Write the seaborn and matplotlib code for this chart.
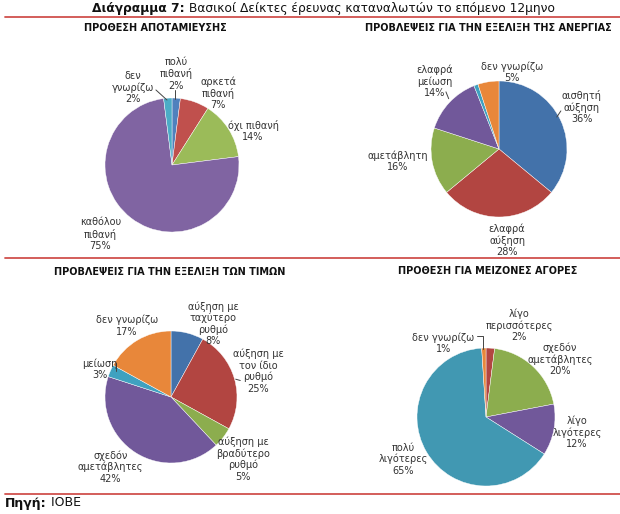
import seaborn as sns
import matplotlib.pyplot as plt
import numpy as np

# data
savings_labels = ['πολύ\nπιθανή', 'αρκετά\nπιθανή', 'όχι πιθανή', 'καθόλου\nπιθανή', 'δεν\nγνωρίζω']
savings_values = [2, 7, 14, 75, 2]

unemp_labels = ['αισθητή\nαύξηση', 'ελαφρά\nαύξηση', 'αμετάβλητη', 'ελαφρά\nμείωση', '', 'δεν γνωρίζω']
unemp_values = [36, 28, 16, 14, 1, 5]

prices_labels = ['αύξηση με\nταχύτερο\nρυθμό', 'αύξηση με\nτον ίδιο\nρυθμό', 'αύξηση με\nβραδύτερο\nρυθμό',
                 'σχεδόν\nαμετάβλητες', 'μείωση', 'δεν γνωρίζω']
prices_values = [8, 25, 5, 42, 3, 17]

purchase_labels = ['λίγο\nπερισσότερες', 'σχεδόν\nαμετάβλητες', 'λίγο\nλιγότερες', 'πολύ\nλιγότερες', 'δεν γνωρίζω']
purchase_values = [2, 20, 12, 65, 1]

titles = ['ΠΡΟΘΕΣΗ ΑΠΟΤΑΜΙΕΥΣΗΣ', 'ΠΡΟΒΛΕΨΕΙΣ ΓΙΑ ΤΗΝ ΕΞΕΛΙΞΗ ΤΗΣ ΑΝΕΡΓΙΑΣ',
          'ΠΡΟΒΛΕΨΕΙΣ ΓΙΑ ΤΗΝ ΕΞΕΛΙΞΗ ΤΩΝ ΤΙΜΩΝ', 'ΠΡΟΘΕΣΗ ΓΙΑ ΜΕΙΖΟΝΕΣ ΑΓΟΡΕΣ']

# styles
colors = [
    ['#4F81BD', '#C0504D', '#9BBB59', '#8064A2', '#4BACC6'],
    ['#4372AA', '#B24541', '#8CAD4E', '#71589A', '#3FA1C0', '#E8873A'],
    ['#4372AA', '#B24541', '#8CAD4E', '#71589A', '#3FA1C0', '#E8873A'],
    ['#B24541', '#8CAD4E', '#71589A', '#4198B2', '#E8873A'],
]
# label offsets relative to pie radius
offsets = [
    [(0.06, 1.36), (0.69, 1.07), (1.21, 0.51), (-1.07, -1.03), (-0.58, 1.16)],
    [(1.22, 0.62), (0.12, -1.34), (-1.49, -0.18), (-0.94, 0.99), (0, 0), (0.19, 1.13)],
    [(0.64, 1.11), (1.32, 0.39), (1.09, -0.94), (-0.92, -1.06), (-1.08, 0.42), (-0.67, 1.08)],
    [(0.48, 1.33), (1.07, 0.84), (1.32, -0.22), (-1.2, -0.61), (-0.62, 1.07)],
]
# leader lines relative to pie radius
leaders = [
    [[(0.045, 1.12), (0.045, 0.985)], [(-0.24, 1.12), (-0.075, 0.97)]],
    [[(0.91, 0.56), (0.85, 0.47)], [(-0.78, 0.84), (-0.74, 0.74)]],
    [[(-0.83, 0.52), (-0.83, 0.39)], [(0.98, 0.27), (1.05, 0.25)]],
    [[(-0.13, 1.17), (-0.04, 1.17), (-0.04, 0.99)]],
]
# pie centers and radius in pixels
W, H = 620, 514
centers = [(172, 165, 67), (499, 149, 68), (171, 397, 66), (486, 417, 69)]
title_pos = [(155, 28), (488, 28), (170, 272), (488, 271)]

sns.set_style('white')
plt.rcParams['font.family'] = ['DejaVu Sans']

fig = plt.figure(figsize=(W / 100, H / 100), dpi=100)

all_labels = [savings_labels, unemp_labels, prices_labels, purchase_labels]
all_values = [savings_values, unemp_values, prices_values, purchase_values]

for i in range(4):
    cx, cy, r = centers[i]
    ax = fig.add_axes([(cx - r) / W, 1 - (cy + r) / H, 2 * r / W, 2 * r / H])
    wedges, _ = ax.pie(all_values[i], colors=colors[i], startangle=90, counterclock=False,
                       radius=1, wedgeprops=dict(edgecolor='white', linewidth=0.3))
    ax.set_xlim(-1, 1)
    ax.set_ylim(-1, 1)
    ax.set_aspect('equal')
    ax.axis('off')
    for lab, val, (dx, dy) in zip(all_labels[i], all_values[i], offsets[i]):
        if not lab:
            continue
        ax.text(dx, dy, f'{lab}\n{val}%', ha='center', va='center', fontsize=7,
                color='#333333', linespacing=1.15, clip_on=False)
    for pts in leaders[i]:
        xs, ys = zip(*pts)
        ax.plot(xs, ys, color='#444444', lw=0.7, clip_on=False)
    fig.text(title_pos[i][0] / W, 1 - title_pos[i][1] / H, titles[i], ha='center', va='center',
             fontsize=7, fontweight='bold', color='#111111')

# separators
for y in [17, 258, 494]:
    fig.add_artist(plt.Line2D([5 / W, 1], [1 - y / H, 1 - y / H], color='#D0504D', lw=1.3))

# main title: bold prefix + regular rest
fig.canvas.draw()
rend = fig.canvas.get_renderer()
t_rest = fig.text(555 / W, 1 - 8.5 / H, ' Βασικοί Δείκτες έρευνας καταναλωτών το επόμενο 12μηνο',
                  ha='right', va='center', fontsize=8.8, color='#111111')
bb = t_rest.get_window_extent(rend)
fig.text(bb.x0 / W, 1 - 8.5 / H, 'Διάγραμμα 7:', ha='right', va='center', fontsize=8.8,
         fontweight='bold', color='#111111')

t_src = fig.text(5 / W, 1 - 503 / H, 'Πηγή:', ha='left', va='center', fontsize=9,
                 fontweight='bold', color='#111111')
bb = t_src.get_window_extent(rend)
fig.text(bb.x1 / W, 1 - 503 / H, ' ΙΟΒΕ', ha='left', va='center', fontsize=9, color='#111111')

fig.savefig('out.png', dpi=100)
